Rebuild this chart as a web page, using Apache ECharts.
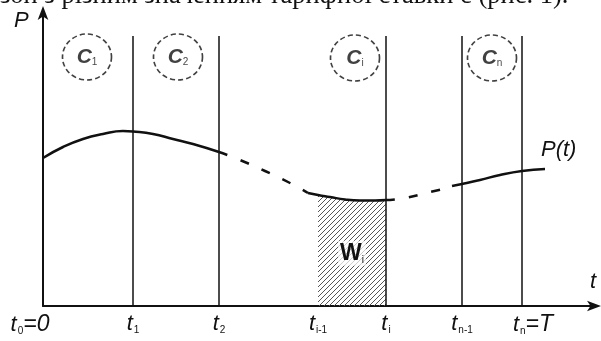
<!DOCTYPE html>
<html>
<head>
<meta charset="utf-8">
<script src="https://cdn.jsdelivr.net/npm/echarts@6/dist/echarts.min.js"></script>
<style>
html,body{margin:0;padding:0;background:#fff;}
#chart{width:601px;height:341px;}
</style>
</head>
<body>
<div id="chart"></div>
<script>
// ---- data (schematic units) ----
const captionText = 'зон з різним значенням тарифної ставки с (рис. 1).';
// P(t) curve pieces
const seg1T = [0, 20, 40, 60, 80, 90, 110, 130, 150, 176];
const seg1P = [148, 159, 167, 172, 175, 174.5, 172, 167, 162, 154];
const gap1T = [176, 197, 222, 247, 265];
const gap1P = [154, 146, 135, 123, 113];
const seg2T = [265, 275, 287, 302, 317, 332, 343];
const seg2P = [113, 111, 109, 106.5, 105.5, 105.5, 106];
const gap2T = [343, 362, 387, 409];
const gap2P = [106, 108, 114, 119];
const seg3T = [409, 419, 437, 457, 479, 502];
const seg3P = [120, 122, 126, 131, 135, 137];
// tariff zone boundaries
const tickValues = [0, 90, 176, 275, 343, 419, 479];
const tickLabels = [['t', '0', '=0'], ['t', '1', ''], ['t', '2', ''], ['t', 'i-1', ''], ['t', 'i', ''], ['t', 'n-1', ''], ['t', 'n', '=T']];
const zoneLines = [90, 176, 343, 419, 479];
const zoneTop = 270;
// hatched energy area W_i between t_{i-1} and t_i
const hatchFrom = 275, hatchTo = 343;
// tariff circles
const circleT = [44, 135, 312, 449];
const circleP = [249, 249, 248, 248];
const circleSub = ['1', '2', 'i', 'n'];
const xMax = 554, yMax = 296;

const ink = '#111';
const sans = 'Arial, "Liberation Sans", sans-serif';
const chart = echarts.init(document.getElementById('chart'));

const pc = document.createElement('canvas');
pc.width = 5; pc.height = 5;
const pctx = pc.getContext('2d');
pctx.strokeStyle = '#555';
pctx.lineWidth = 1;
pctx.beginPath();
pctx.moveTo(0, 5); pctx.lineTo(5, 0);
pctx.moveTo(-1, 1); pctx.lineTo(1, -1);
pctx.moveTo(4, 6); pctx.lineTo(6, 4);
pctx.stroke();

const zip = (a, b) => a.map((v, i) => [v, b[i]]);
const hatchData = zip(seg2T, seg2P).filter(d => d[0] >= hatchFrom && d[0] <= hatchTo);

const option = {
  backgroundColor: '#fff',
  animation: false,
  grid: {left: 43, right: 4, top: 10, bottom: 35},
  xAxis: {
    type: 'value', min: 0, max: xMax,
    splitLine: {show: false},
    axisTick: {show: false},
    axisLine: {show: true, symbol: ['none', 'arrow'], symbolSize: [8, 14], symbolOffset: [0, 4], lineStyle: {color: ink, width: 2}},
    axisLabel: {
      customValues: tickValues,
      alignMinLabel: 'center',
      margin: 7,
      formatter: function (v) {
        const i = tickValues.indexOf(v);
        if (i < 0) return '';
        const l = tickLabels[i];
        const first = i === 0, last = i === tickLabels.length - 1;
        const style = first ? 'ta' : (last ? 'tb' : 't');
        return '{' + style + '|' + l[0] + '}{s|' + l[1] + '}' + (l[2] ? '{' + (first ? 'ea' : 'e') + '|' + l[2] + '}' : '');
      },
      rich: {
        t: {fontFamily: sans, fontStyle: 'italic', fontSize: 22, color: ink},
        ta: {fontFamily: sans, fontStyle: 'italic', fontSize: 22, color: ink},
        tb: {fontFamily: sans, fontStyle: 'italic', fontSize: 22, color: ink, padding: [0, 0, 0, 22]},
        s: {fontFamily: sans, fontSize: 10, color: ink, verticalAlign: 'bottom', padding: [9, 0, 0, 1]},
        e: {fontFamily: sans, fontStyle: 'italic', fontSize: 23, color: ink},
        ea: {fontFamily: sans, fontStyle: 'italic', fontSize: 23, color: ink, padding: [0, 26, 0, 0]}
      }
    }
  },
  yAxis: {
    type: 'value', min: 0, max: yMax,
    splitLine: {show: false},
    axisTick: {show: false},
    axisLabel: {show: false},
    axisLine: {show: true, symbol: ['none', 'arrow'], symbolSize: [8, 14], symbolOffset: [0, 4], lineStyle: {color: ink, width: 2}}
  },
  series: [
    {
      type: 'line', data: hatchData, smooth: true, symbol: 'none', silent: true,
      lineStyle: {width: 0},
      areaStyle: {color: {image: pc, repeat: 'repeat'}, opacity: 1},
      z: 1
    },
    {
      type: 'line', data: zip(seg1T, seg1P), smooth: true, symbol: 'none', silent: true,
      lineStyle: {color: ink, width: 2.5}, z: 3,
      markLine: {
        silent: true, symbol: 'none', animation: false,
        label: {show: false},
        lineStyle: {color: ink, width: 1.5, type: 'solid'},
        data: zoneLines.map(t => [{coord: [t, 0]}, {coord: [t, zoneTop]}])
      }
    },
    {
      type: 'line', data: zip(gap1T, gap1P), smooth: true, symbol: 'none', silent: true,
      lineStyle: {color: ink, width: 2.5, type: [9, 14]}, z: 3
    },
    {
      type: 'line', data: zip(seg2T, seg2P), smooth: true, symbol: 'none', silent: true,
      lineStyle: {color: ink, width: 2.5}, z: 3
    },
    {
      type: 'line', data: zip(gap2T, gap2P), smooth: true, symbol: 'none', silent: true,
      lineStyle: {color: ink, width: 2.5, type: [9, 14]}, z: 3
    },
    {
      type: 'line', data: zip(seg3T, seg3P), smooth: true, symbol: 'none', silent: true,
      lineStyle: {color: ink, width: 2.5}, z: 3,
      endLabel: {
        show: true, formatter: 'P(t)', offset: [-12, -19],
        fontFamily: sans, fontStyle: 'italic', fontSize: 22, color: ink
      }
    },
    {
      type: 'scatter', silent: true, z: 4,
      data: zip(circleT, circleP),
      symbol: 'circle', symbolSize: [49, 46],
      itemStyle: {color: 'rgba(0,0,0,0)', borderColor: ink, borderWidth: 1.6, borderType: [5, 3]},
      label: {
        show: true, position: 'inside',
        formatter: p => '{c|C}{s|' + circleSub[p.dataIndex] + '}',
        rich: {
          c: {fontFamily: sans, fontStyle: 'italic', fontWeight: 'bold', fontSize: 21, color: ink},
          s: {fontFamily: sans, fontSize: 10, color: ink, verticalAlign: 'bottom', padding: [10, 0, 0, 0]}
        }
      }
    }
  ]
};
chart.setOption(option);

const wPos = chart.convertToPixel({xAxisIndex: 0, yAxisIndex: 0}, [(hatchFrom + hatchTo) / 2, hatchData[Math.floor(hatchData.length / 2)][1] / 2]);
chart.setOption({
  graphic: [
    {type: 'text', left: 0, top: -17, silent: true,
     style: {text: captionText, font: '26.5px "Liberation Serif"', fill: ink}},
    {type: 'text', left: 14, top: 10, silent: true,
     style: {text: 'P', font: 'italic 22px ' + sans, fill: ink}},
    {type: 'text', left: 590, top: 271, silent: true,
     style: {text: 't', font: 'italic 22px ' + sans, fill: ink}},
    {type: 'text', x: wPos[0], y: wPos[1], silent: true, z: 10,
     style: {
       text: '{w|W}{s|i}', align: 'center', verticalAlign: 'middle',
       backgroundColor: 'rgba(255,255,255,0.7)', padding: [1, 2],
       rich: {
         w: {font: 'bold 23px ' + sans, fill: ink},
         s: {font: '10px ' + sans, fill: ink, verticalAlign: 'bottom', padding: [9, 0, 0, 0]}
       }
     }}
  ]
});
</script>
</body>
</html>
